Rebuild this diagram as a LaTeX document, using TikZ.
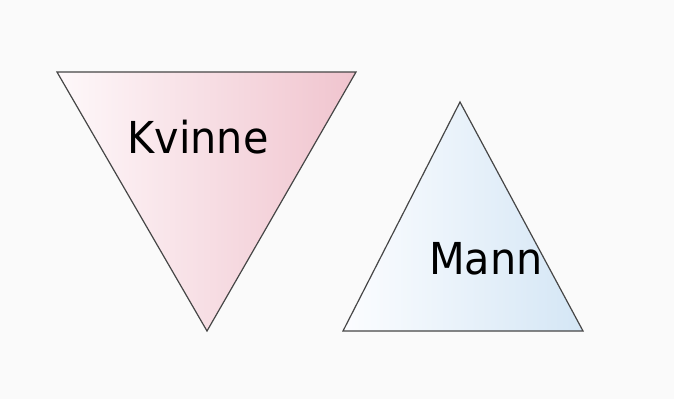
\documentclass[tikz,border=0pt]{standalone}
\usepackage{fontspec}
\setmainfont{DejaVu Sans}
\definecolor{bg}{RGB}{250,250,250}
\definecolor{pinkL}{RGB}{254,248,250}
\definecolor{pinkR}{RGB}{240,196,206}
\definecolor{blueL}{RGB}{252,253,255}
\definecolor{blueR}{RGB}{212,230,245}
\definecolor{edge}{RGB}{70,70,70}
\tikzset{
  tri/.style={draw=edge, line width=1.2pt, line join=miter},
  lbl/.style={font=\fontsize{44}{44}\selectfont, text=black, inner sep=0pt}
}
\begin{document}
\begin{tikzpicture}[x=1pt,y=-1pt]
\fill[bg] (0,0) rectangle (674,399);
\useasboundingbox (0,0) rectangle (674,399);
\coordinate (k1) at (57,72);
\coordinate (k2) at (356,72);
\coordinate (k3) at (207,331);
\coordinate (m1) at (460,102);
\coordinate (m2) at (583,331);
\coordinate (m3) at (343,331);
\shade[left color=pinkL, right color=pinkR] (k1) -- (k2) -- (k3) -- cycle;
\draw[tri] (k1) -- (k2) -- (k3) -- cycle;
\shade[left color=blueL, right color=blueR] (m1) -- (m2) -- (m3) -- cycle;
\draw[tri] (m1) -- (m2) -- (m3) -- cycle;
\node[lbl, xscale=0.94] (kv) at (198,137) {Kvinne};
\node[lbl, xscale=0.94] (ma) at (486,259) {Mann};
\end{tikzpicture}
\end{document}
